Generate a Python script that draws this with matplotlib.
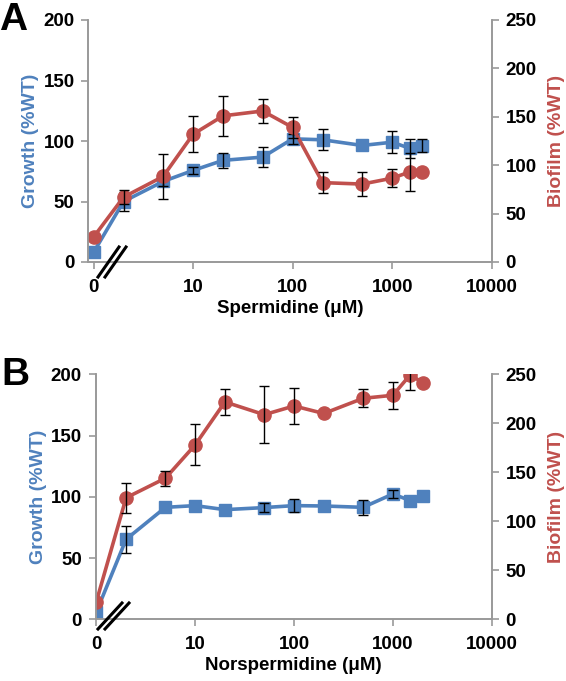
import matplotlib
matplotlib.use("Agg")
import matplotlib.pyplot as plt
from matplotlib.lines import Line2D

plt.rcParams['font.family'] = ['Liberation Sans', 'DejaVu Sans']
plt.rcParams['font.weight'] = 'bold'

# concentraciones (uM); "0" se dibuja en x=1 del eje logaritmico
conc = [1, 2, 5, 10, 20, 50, 100, 200, 500, 1000, 1500, 2000]
xtick_pos = [1, 10, 100, 1000, 10000]
xtick_lab = ['0', '10', '100', '1000', '10000']

# Panel A - espermidina
growth_a = [8, 50, 66.6, 75.7, 84, 86.7, 101.8, 101, 96.3, 99, 94, 96]
growth_a_err = [0, 8, 4, 3, 6, 8, 4, 8.7, 0, 9, 8, 5.5]
biofilm_a = [25.8, 67, 88.4, 132, 151, 156, 139, 82, 80.5, 86.6, 93, 93]
biofilm_a_err = [0, 7, 23, 18.6, 21, 12.7, 11, 11, 12, 9, 20, 0]

# Panel B - norespermidina
growth_b = [6, 65.3, 91.4, 92.8, 89.5, 91.2, 92.8, 92.5, 91.4, 102.3, 96.9, 101]
growth_b_err = [0, 11, 0, 0, 0, 4, 5.5, 0, 6, 3, 0, 0]
biofilm_b = [18, 124, 144, 178, 221.8, 208.8, 217.7, 210, 225.5, 228.6, 249.5, 241.5]
biofilm_b_err = [0, 15.5, 7.5, 21, 13, 29, 18, 0, 9, 13.5, 16, 0]

azul = '#4F81BD'
rojo = '#C0504D'
gris = '#999999'

W, H = 566, 681
fig = plt.figure(figsize=(W / 100, H / 100), dpi=100)


def barras(a, x, y, err):
    # solo los puntos que tienen error
    xs = [xi for xi, e in zip(x, err) if e > 0]
    ys = [yi for yi, e in zip(y, err) if e > 0]
    es = [e for e in err if e > 0]
    a.errorbar(xs, ys, yerr=es, fmt='none', ecolor='black',
               elinewidth=1, capsize=3.5, capthick=1, zorder=3)


def panel(rect, xmin, growth, g_err, biofilm, b_err, xlabel, letter, letter_xy, breaks):
    ax = fig.add_axes(rect)
    ax2 = ax.twinx()

    ax.plot(conc, growth, color=azul, lw=2.6, marker='s', ms=9, zorder=2)
    barras(ax, conc, growth, g_err)
    ax2.plot(conc, biofilm, color=rojo, lw=2.6, marker='o', ms=9.5, zorder=2)
    barras(ax2, conc, biofilm, b_err)

    ax.set_xscale('log')
    ax.set_xlim(xmin, 10000)
    ax.set_xticks(xtick_pos)
    ax.set_xticklabels(xtick_lab)
    ax.minorticks_off()
    ax2.minorticks_off()
    ax.set_ylim(0, 200)
    ax.set_yticks([0, 50, 100, 150, 200])
    ax2.set_ylim(0, 250)
    ax2.set_yticks([0, 50, 100, 150, 200, 250])

    for a in (ax, ax2):
        a.spines['top'].set_visible(False)
        for s in ('left', 'right', 'bottom'):
            a.spines[s].set_color(gris)
            a.spines[s].set_linewidth(1.2)
        a.tick_params(axis='both', colors=gris, labelcolor='black',
                      labelsize=13.5, length=5, width=1.2, direction='out')
    ax.tick_params(axis='x', pad=7)
    ax.tick_params(axis='y', pad=5)
    ax2.tick_params(axis='y', pad=5)

    ax.set_xlabel(xlabel, fontsize=13.5, fontweight='bold', labelpad=3)
    ax.set_ylabel('Growth (%WT)', fontsize=14, fontweight='bold', color=azul, labelpad=3)
    ax2.set_ylabel('Biofilm (%WT)', fontsize=14, fontweight='bold', color=rojo, labelpad=8)

    fig.text(letter_xy[0] / W, 1 - letter_xy[1] / H, letter, fontsize=28,
             fontweight='bold', ha='left', va='center')

    # marcas de corte del eje
    for (x0, y0, x1, y1) in breaks:
        fig.add_artist(Line2D([x0 / W, x1 / W], [1 - y0 / H, 1 - y1 / H],
                              transform=fig.transFigure, color='black', lw=2.2))
    return ax, ax2


panel([88.4 / W, 1 - 262 / H, (491.7 - 88.4) / W, 242 / H], 0.887,
      growth_a, growth_a_err, biofilm_a, biofilm_a_err,
      'Spermidine (\u03bcM)', 'A', (-1, 20),
      [(98, 277, 119, 247), (105, 277, 126, 247)])

panel([95.7 / W, 1 - 619.3 / H, (491.7 - 95.7) / W, 245 / H], 0.985,
      growth_b, growth_b_err, biofilm_b, biofilm_b_err,
      'Norspermidine (\u03bcM)', 'B', (1, 375),
      [(98, 629, 122, 603), (105, 629, 129, 603)])

fig.savefig('out.png', dpi=100)
